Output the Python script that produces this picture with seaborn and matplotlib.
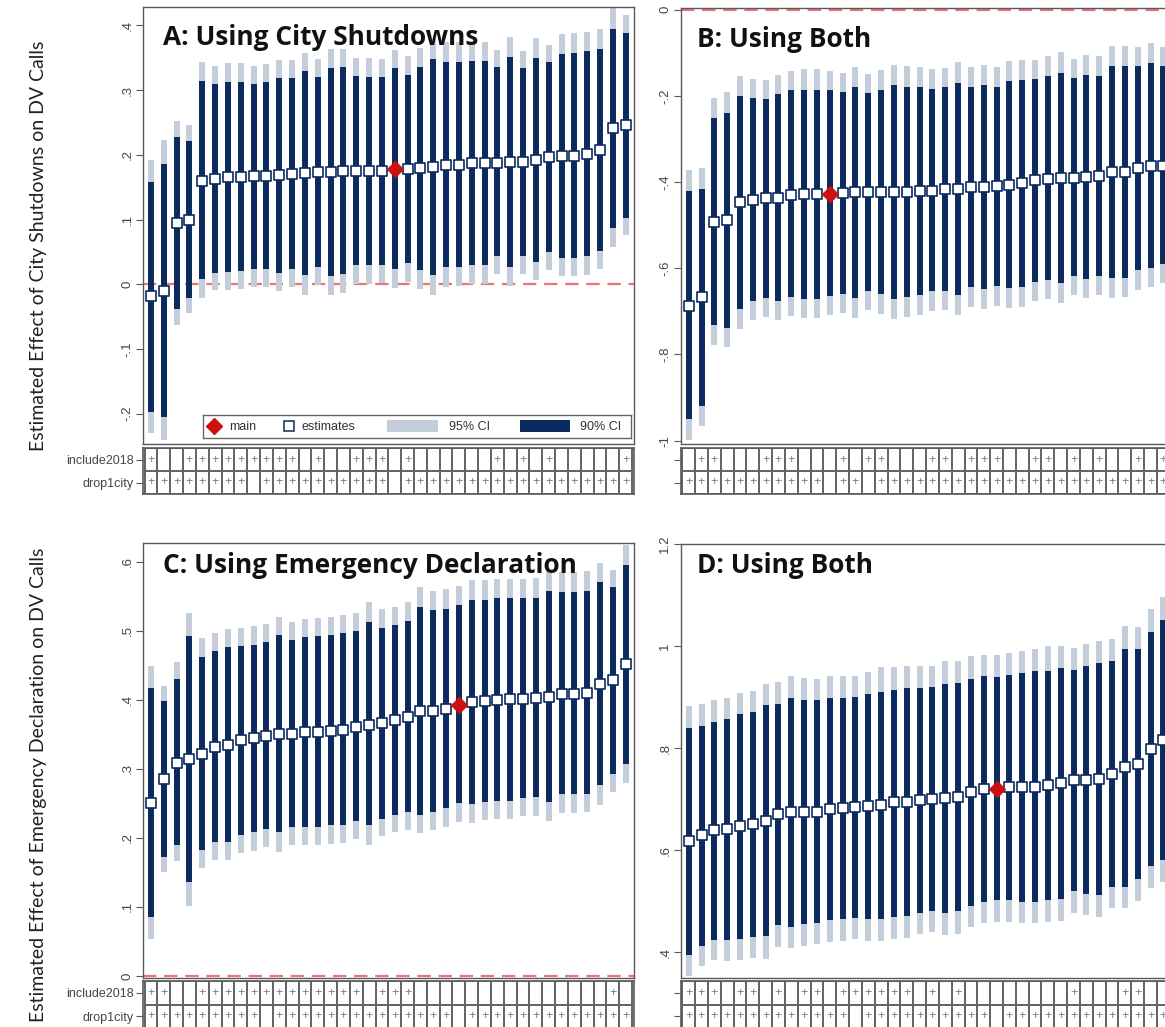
import numpy as np
import pandas as pd
import matplotlib
matplotlib.use("Agg")
import matplotlib.pyplot as plt
from matplotlib.colors import ListedColormap
from matplotlib.patches import Rectangle
from matplotlib.ticker import FixedLocator, FuncFormatter
import seaborn as sns

# ---------------------------------------------------------------- data
ROW_LABELS = ["include2018", "drop1city"]

# Panel A: city shutdowns
a_est = [-0.018, -0.010, 0.094, 0.100, 0.160, 0.163, 0.166, 0.166, 0.167, 0.167,
         0.169, 0.171, 0.172, 0.173, 0.174, 0.175, 0.175, 0.175, 0.175, 0.178,
         0.178, 0.179, 0.181, 0.185, 0.185, 0.187, 0.187, 0.188, 0.189, 0.189,
         0.192, 0.196, 0.198, 0.198, 0.201, 0.208, 0.241, 0.246]
a_lo90 = [-0.197, -0.205, -0.039, -0.021, 0.008, 0.018, 0.019, 0.020, 0.024, 0.023,
          0.018, 0.023, 0.014, 0.026, 0.013, 0.016, 0.029, 0.029, 0.029, 0.023,
          0.032, 0.022, 0.014, 0.026, 0.027, 0.029, 0.029, 0.043, 0.027, 0.044,
          0.034, 0.049, 0.040, 0.040, 0.043, 0.052, 0.087, 0.103]
a_hi90 = [0.158, 0.186, 0.228, 0.222, 0.314, 0.309, 0.313, 0.313, 0.309, 0.312,
          0.318, 0.319, 0.329, 0.320, 0.334, 0.335, 0.322, 0.321, 0.321, 0.334,
          0.324, 0.336, 0.348, 0.343, 0.343, 0.345, 0.345, 0.335, 0.351, 0.334,
          0.350, 0.343, 0.356, 0.357, 0.360, 0.364, 0.395, 0.389]
a_lo95 = [-0.230, -0.241, -0.063, -0.045, -0.022, -0.009, -0.009, -0.008, -0.005, -0.005,
          -0.010, -0.005, -0.016, -0.002, -0.016, -0.014, 0.001, 0.001, 0.002, -0.006,
          0.004, -0.008, -0.016, -0.004, -0.003, 0.001, 0.001, 0.016, -0.003, 0.016,
          0.006, 0.022, 0.012, 0.012, 0.014, 0.023, 0.058, 0.076]
a_hi95 = [0.192, 0.223, 0.253, 0.246, 0.344, 0.338, 0.342, 0.342, 0.338, 0.341,
          0.346, 0.347, 0.358, 0.348, 0.363, 0.364, 0.349, 0.349, 0.348, 0.362,
          0.352, 0.365, 0.379, 0.374, 0.374, 0.375, 0.375, 0.362, 0.382, 0.361,
          0.380, 0.370, 0.386, 0.388, 0.390, 0.395, 0.427, 0.416]
a_main = 19
a_include2018 = [1, 0, 0, 1, 1, 1, 1, 1, 1, 1, 1, 1, 0, 1, 0, 0, 1, 1, 1, 0,
                 1, 0, 0, 0, 0, 0, 0, 1, 0, 1, 0, 1, 0, 0, 0, 0, 0, 1]
a_drop1city = [1, 1, 1, 1, 1, 1, 1, 1, 0, 1, 1, 1, 1, 1, 1, 1, 1, 1, 1, 0,
               1, 1, 1, 1, 1, 1, 1, 1, 1, 1, 1, 1, 1, 1, 1, 1, 1, 1]
a_yticks = [-0.2, -0.1, 0.0, 0.1, 0.2, 0.3, 0.4]

# Panel B: city shutdowns, model using both measures
b_est = [-0.687, -0.667, -0.494, -0.489, -0.447, -0.441, -0.438, -0.437, -0.430, -0.429,
         -0.428, -0.427, -0.425, -0.424, -0.424, -0.423, -0.423, -0.423, -0.420, -0.420,
         -0.416, -0.416, -0.412, -0.411, -0.410, -0.407, -0.402, -0.396, -0.392, -0.391,
         -0.390, -0.389, -0.385, -0.378, -0.377, -0.368, -0.364, -0.362]
b_lo90 = [-0.950, -0.920, -0.733, -0.738, -0.695, -0.676, -0.670, -0.676, -0.668, -0.671,
          -0.671, -0.664, -0.660, -0.669, -0.654, -0.660, -0.672, -0.667, -0.662, -0.654,
          -0.652, -0.662, -0.644, -0.649, -0.642, -0.647, -0.644, -0.633, -0.627, -0.635,
          -0.619, -0.625, -0.619, -0.623, -0.622, -0.605, -0.600, -0.591]
b_hi90 = [-0.422, -0.416, -0.252, -0.240, -0.200, -0.205, -0.207, -0.197, -0.187, -0.186,
          -0.186, -0.187, -0.191, -0.180, -0.193, -0.186, -0.175, -0.180, -0.180, -0.184,
          -0.180, -0.170, -0.180, -0.174, -0.180, -0.166, -0.163, -0.161, -0.155, -0.146,
          -0.159, -0.151, -0.153, -0.132, -0.132, -0.132, -0.124, -0.132]
b_lo95 = [-0.998, -0.967, -0.778, -0.784, -0.741, -0.721, -0.714, -0.721, -0.712, -0.716,
          -0.716, -0.708, -0.704, -0.716, -0.698, -0.706, -0.718, -0.714, -0.708, -0.699,
          -0.697, -0.708, -0.689, -0.695, -0.687, -0.693, -0.690, -0.677, -0.671, -0.681,
          -0.663, -0.670, -0.663, -0.670, -0.668, -0.650, -0.644, -0.635]
b_hi95 = [-0.372, -0.368, -0.205, -0.192, -0.153, -0.160, -0.163, -0.152, -0.142, -0.139,
          -0.139, -0.143, -0.147, -0.134, -0.149, -0.141, -0.128, -0.132, -0.134, -0.139,
          -0.135, -0.122, -0.134, -0.128, -0.134, -0.120, -0.118, -0.116, -0.108, -0.098,
          -0.115, -0.105, -0.107, -0.085, -0.085, -0.087, -0.077, -0.087]
b_main = 11
b_include2018 = [0, 1, 1, 0, 0, 0, 1, 1, 1, 0, 0, 0, 1, 0, 1, 1, 0, 0, 0, 1,
                 1, 0, 1, 1, 1, 0, 0, 1, 1, 0, 1, 0, 1, 0, 0, 1, 0, 1]
b_drop1city = [1, 1, 1, 1, 1, 1, 1, 1, 1, 1, 1, 0, 1, 1, 0, 1, 1, 1, 1, 1,
               1, 1, 1, 1, 1, 1, 1, 1, 1, 1, 1, 1, 1, 1, 1, 1, 1, 1]
b_yticks = [-1.0, -0.8, -0.6, -0.4, -0.2, 0.0]

# Panel C: emergency declaration
c_est = [0.251, 0.285, 0.309, 0.314, 0.322, 0.332, 0.334, 0.341, 0.344, 0.347,
         0.350, 0.351, 0.353, 0.354, 0.355, 0.356, 0.361, 0.364, 0.366, 0.370,
         0.375, 0.383, 0.384, 0.386, 0.393, 0.397, 0.398, 0.400, 0.401, 0.401,
         0.402, 0.404, 0.408, 0.409, 0.410, 0.423, 0.428, 0.452]
c_lo90 = [0.085, 0.172, 0.189, 0.136, 0.183, 0.194, 0.194, 0.204, 0.208, 0.213,
          0.208, 0.216, 0.216, 0.216, 0.218, 0.218, 0.225, 0.218, 0.228, 0.233,
          0.237, 0.233, 0.238, 0.243, 0.250, 0.249, 0.252, 0.253, 0.254, 0.257,
          0.259, 0.252, 0.264, 0.264, 0.264, 0.276, 0.292, 0.307]
c_hi90 = [0.417, 0.398, 0.430, 0.492, 0.462, 0.471, 0.477, 0.478, 0.480, 0.483,
          0.494, 0.487, 0.491, 0.492, 0.494, 0.496, 0.500, 0.513, 0.504, 0.508,
          0.514, 0.534, 0.530, 0.532, 0.537, 0.545, 0.545, 0.547, 0.547, 0.547,
          0.548, 0.558, 0.556, 0.556, 0.558, 0.571, 0.563, 0.595]
c_lo95 = [0.053, 0.150, 0.166, 0.101, 0.157, 0.168, 0.168, 0.178, 0.181, 0.187,
          0.180, 0.190, 0.190, 0.190, 0.191, 0.192, 0.199, 0.190, 0.203, 0.208,
          0.211, 0.207, 0.211, 0.216, 0.223, 0.222, 0.226, 0.227, 0.228, 0.231,
          0.232, 0.225, 0.236, 0.236, 0.238, 0.248, 0.267, 0.279]
c_hi95 = [0.449, 0.420, 0.454, 0.526, 0.489, 0.497, 0.503, 0.504, 0.507, 0.510,
          0.520, 0.513, 0.517, 0.519, 0.520, 0.523, 0.526, 0.541, 0.531, 0.534,
          0.541, 0.563, 0.558, 0.560, 0.565, 0.573, 0.573, 0.575, 0.575, 0.575,
          0.576, 0.588, 0.585, 0.585, 0.587, 0.598, 0.588, 0.624]
c_main = 24
c_include2018 = [1, 1, 0, 0, 1, 1, 1, 1, 1, 1, 1, 1, 1, 1, 1, 1, 1, 0, 1, 1,
                 1, 0, 0, 0, 0, 0, 0, 0, 0, 0, 0, 0, 0, 0, 0, 0, 1, 0]
c_drop1city = [1, 1, 1, 1, 1, 1, 1, 1, 1, 0, 1, 1, 1, 1, 1, 1, 1, 1, 1, 1,
               1, 1, 1, 1, 0, 1, 1, 1, 1, 1, 1, 1, 1, 1, 1, 1, 1, 1]
c_yticks = [0.0, 0.1, 0.2, 0.3, 0.4, 0.5, 0.6]

# Panel D: emergency declaration, model using both measures
d_est = [0.618, 0.630, 0.639, 0.642, 0.648, 0.651, 0.658, 0.672, 0.675, 0.676,
         0.676, 0.681, 0.682, 0.685, 0.686, 0.688, 0.694, 0.695, 0.699, 0.701,
         0.703, 0.705, 0.714, 0.721, 0.721, 0.724, 0.724, 0.725, 0.728, 0.731,
         0.737, 0.738, 0.740, 0.750, 0.763, 0.770, 0.799, 0.817]
d_lo90 = [0.396, 0.413, 0.425, 0.425, 0.427, 0.431, 0.432, 0.453, 0.450, 0.455,
          0.458, 0.463, 0.465, 0.468, 0.465, 0.465, 0.470, 0.471, 0.478, 0.481,
          0.478, 0.481, 0.491, 0.499, 0.502, 0.502, 0.499, 0.499, 0.502, 0.504,
          0.520, 0.515, 0.512, 0.528, 0.528, 0.543, 0.570, 0.581]
d_hi90 = [0.839, 0.843, 0.852, 0.858, 0.867, 0.871, 0.884, 0.887, 0.898, 0.895,
          0.894, 0.898, 0.898, 0.900, 0.906, 0.910, 0.915, 0.918, 0.918, 0.920,
          0.926, 0.928, 0.936, 0.941, 0.939, 0.944, 0.948, 0.951, 0.952, 0.957,
          0.954, 0.961, 0.967, 0.970, 0.995, 0.995, 1.027, 1.052]
d_lo95 = [0.354, 0.374, 0.385, 0.384, 0.386, 0.390, 0.388, 0.411, 0.408, 0.412,
          0.416, 0.421, 0.423, 0.427, 0.423, 0.423, 0.427, 0.429, 0.437, 0.440,
          0.435, 0.437, 0.449, 0.457, 0.460, 0.460, 0.457, 0.457, 0.460, 0.461,
          0.478, 0.474, 0.470, 0.488, 0.487, 0.501, 0.526, 0.538]
d_hi95 = [0.882, 0.887, 0.895, 0.899, 0.909, 0.913, 0.926, 0.929, 0.942, 0.937,
          0.936, 0.941, 0.941, 0.942, 0.949, 0.959, 0.959, 0.961, 0.961, 0.962,
          0.970, 0.971, 0.980, 0.983, 0.982, 0.987, 0.991, 0.995, 1.000, 1.000,
          0.997, 1.004, 1.011, 1.013, 1.039, 1.038, 1.072, 1.097]
d_main = 24
d_include2018 = [1, 1, 1, 0, 1, 1, 0, 1, 0, 1, 1, 0, 1, 1, 1, 1, 1, 1, 0, 1,
                 0, 1, 0, 0, 0, 0, 0, 0, 0, 0, 1, 0, 0, 0, 1, 1, 0, 0]
d_drop1city = [1, 1, 1, 1, 1, 1, 1, 1, 1, 1, 1, 1, 1, 0, 1, 1, 1, 1, 1, 1,
               1, 1, 1, 1, 0, 1, 1, 1, 1, 1, 1, 1, 1, 1, 1, 1, 1, 1]
d_yticks = [0.4, 0.6, 0.8, 1.0, 1.2]

YLABEL_TOP = "Estimated Effect of City Shutdowns on DV Calls"
YLABEL_BOTTOM = "Estimated Effect of Emergency Declaration on DV Calls"

# ---------------------------------------------------------------- style
NAVY = "#0b2b5e"
LIGHT = "#c4cedb"
RED = "#cc1010"
ZERO = "#f07272"
FRAME = "#5a5a5a"
TICKTXT = "#454545"

sns.set_theme(style="white")
plt.rcParams["font.family"] = ["Liberation Sans", "DejaVu Sans"]

W, H = 1165, 1027
fig = plt.figure(figsize=(W / 100, H / 100), dpi=100)
fig.patch.set_facecolor("white")


def px_axes(left, top, width, bottom):
    return fig.add_axes([left / W, 1 - bottom / H, width / W, (bottom - top) / H])


def stata_fmt(v, pos):
    v = round(v, 3) + 0.0
    s = f"{v:.1f}".rstrip("0").rstrip(".")
    if s.startswith("0."):
        s = s[1:]
    elif s.startswith("-0."):
        s = "-" + s[2:]
    return s


XLIM = (-0.6, 37.65)


def draw_panel(ax, tab, est, lo90, hi90, lo95, hi95, main_idx, inc, drop,
               ylim, yticks, title, title_xy, row_labels):
    df = pd.DataFrame({"spec": np.arange(len(est)), "est": est,
                       "lo90": lo90, "hi90": hi90, "lo95": lo95, "hi95": hi95})
    ax.axhline(0, color=ZERO, lw=1.6, dashes=(6, 3.5), zorder=0.5)
    ax.vlines(df["spec"], df["lo95"], df["hi95"], color=LIGHT, lw=4.3, zorder=1)
    ax.vlines(df["spec"], df["lo90"], df["hi90"], color=NAVY, lw=4.3, zorder=2)
    sns.scatterplot(data=df[df["spec"] != main_idx], x="spec", y="est", marker="s",
                    s=52, color="white", edgecolor=NAVY, linewidth=1.2,
                    ax=ax, zorder=4, legend=False)
    sns.scatterplot(data=df[df["spec"] == main_idx], x="spec", y="est", marker="D",
                    s=72, color=RED, edgecolor=RED, linewidth=0.5,
                    ax=ax, zorder=5, legend=False)
    ax.set_xlim(*XLIM)
    ax.set_ylim(*ylim)
    ax.yaxis.set_major_locator(FixedLocator(yticks))
    ax.yaxis.set_major_formatter(FuncFormatter(stata_fmt))
    ax.set_xticks([])
    ax.set_xlabel("")
    ax.set_ylabel("")
    ax.tick_params(axis="y", left=True, length=5, width=0.8, color=FRAME,
                   labelsize=9.5, labelcolor=TICKTXT, pad=2, labelrotation=90)
    for lab in ax.get_yticklabels():
        lab.set_va("center")
    for sp in ax.spines.values():
        sp.set_visible(True)
        sp.set_color(FRAME)
        sp.set_linewidth(1.0)
    ax.text(title_xy[0], title_xy[1], title, transform=ax.transAxes,
            ha="left", va="baseline", fontsize=18.9, fontweight="bold",
            family=["Open Sans", "DejaVu Sans"], color="#111111", zorder=6)

    # specification table
    flags = np.array([inc, drop])
    annot = np.where(flags == 1, "+", "")
    sns.heatmap(np.zeros(flags.shape), ax=tab, cmap=ListedColormap(["white"]),
                cbar=False, annot=annot, fmt="", linewidths=1.4, linecolor="#666666",
                annot_kws={"color": "#7a7a7a", "fontsize": 9},
                xticklabels=False, yticklabels=False)
    tab.set_xlim(XLIM[0] + 0.5, XLIM[1] + 0.5)
    tab.set_ylim(2, 0)
    tab.set_yticks([0.5, 1.5])
    tab.set_yticklabels(ROW_LABELS if row_labels else ["", ""])
    tab.tick_params(axis="y", left=True, length=5, width=0.8, color=FRAME,
                    labelsize=9, labelcolor=TICKTXT, pad=2, labelrotation=0)
    for sp in tab.spines.values():
        sp.set_visible(True)
        sp.set_color(FRAME)
        sp.set_linewidth(1.2)


axA = px_axes(143.3, 7.3, 490.7, 444)
tabA = px_axes(143.3, 448, 490.7, 494)
axB = px_axes(681, 8, 490.7, 444)
tabB = px_axes(681, 448, 490.7, 494)
axC = px_axes(143.3, 543, 490.7, 978)
tabC = px_axes(143.3, 981, 490.7, 1028)
axD = px_axes(681, 544, 490.7, 978)
tabD = px_axes(681, 981, 490.7, 1028)

draw_panel(axA, tabA, a_est, a_lo90, a_hi90, a_lo95, a_hi95, a_main,
           a_include2018, a_drop1city, (-0.247, 0.428), a_yticks,
           "A: Using City Shutdowns", (0.040, 0.913), True)
draw_panel(axB, tabB, b_est, b_lo90, b_hi90, b_lo95, b_hi95, b_main,
           b_include2018, b_drop1city, (-1.008, 0.0037), b_yticks,
           "B: Using Both", (0.033, 0.911), False)
draw_panel(axC, tabC, c_est, c_lo90, c_hi90, c_lo95, c_hi95, c_main,
           c_include2018, c_drop1city, (-0.003, 0.627), c_yticks,
           "C: Using Emergency Declaration", (0.040, 0.931), True)
draw_panel(axD, tabD, d_est, d_lo90, d_hi90, d_lo95, d_hi95, d_main,
           d_include2018, d_drop1city, (0.35, 1.2), d_yticks,
           "D: Using Both", (0.033, 0.933), False)

# legend box inside panel A (drawn in a small pixel-unit inset)
leg = axA.inset_axes([(203 - 143.3) / 490.7, 6 / 436.7, 428 / 490.7, 23 / 436.7])
leg.set_xlim(0, 428)
leg.set_ylim(0, 23)
leg.set_xticks([])
leg.set_yticks([])
leg.set_facecolor("white")
for sp in leg.spines.values():
    sp.set_visible(True)
    sp.set_color("#666666")
    sp.set_linewidth(1.0)
leg.plot([11], [11.5], marker="D", ms=8.5, color=RED, ls="")
leg.text(26, 11.2, "main", va="center", ha="left", fontsize=9, color="#333333")
leg.plot([86], [11.5], marker="s", ms=7, mfc="white", mec=NAVY, mew=1.1, ls="")
leg.text(99, 11.2, "estimates", va="center", ha="left", fontsize=9, color="#333333")
leg.add_patch(Rectangle((184, 5.5), 51, 12, color=LIGHT, lw=0))
leg.text(246, 11.2, "95% CI", va="center", ha="left", fontsize=9, color="#333333")
leg.add_patch(Rectangle((317, 5.5), 50, 12, color=NAVY, lw=0))
leg.text(377, 11.2, "90% CI", va="center", ha="left", fontsize=9, color="#333333")

# shared y-axis titles for the two rows
fig.text(39 / W, 1 - 246 / H, YLABEL_TOP, rotation=90, ha="center", va="center",
         fontsize=14.0, family=["Lato", "DejaVu Sans"], color="#222222")
fig.text(39 / W, 1 - 785 / H, YLABEL_BOTTOM, rotation=90, ha="center", va="center",
         fontsize=14.0, family=["Lato", "DejaVu Sans"], color="#222222")

fig.savefig("out.png", dpi=100, facecolor="white")
